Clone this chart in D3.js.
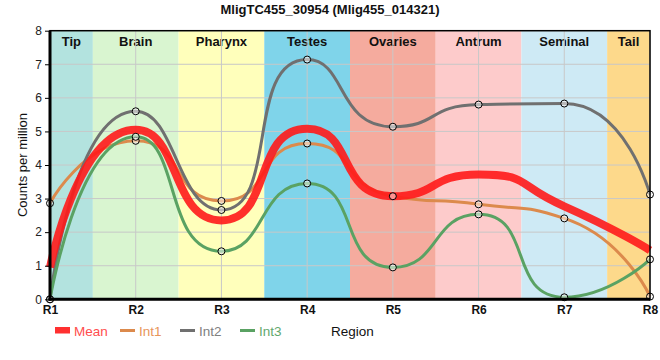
<!DOCTYPE html>
<html><head><meta charset="utf-8">
<script src="https://cdn.jsdelivr.net/npm/d3@7"></script>
<style>body{margin:0;background:#fff;} text{font-family:"Liberation Sans",Arial,sans-serif;}</style>
</head><body>
<svg id="c" width="660" height="360"></svg>
<script>
const title = "MligTC455_30954 (Mlig455_014321)";
const categories = ["R1","R2","R3","R4","R5","R6","R7","R8"];
const regions = ["Tip","Brain","Pharynx","Testes","Ovaries","Antrum","Seminal","Tail"];
const regionColors = ["#b3e3df","#d9f5d0","#ffffbb","#7fd4ea","#f5ab9e","#fdcbcb","#ceeaf5","#fdd98b"];
const meanVals = [0.95, 5.05, 2.35, 5.08, 3.07, 3.72, 2.77, 1.46];
const int1 = [2.86, 4.72, 2.93, 4.64, 3.07, 2.83, 2.41, 0.08];
const int2 = [0.0, 5.60, 2.66, 7.14, 5.14, 5.80, 5.83, 3.12];
const int3 = [0.0, 4.84, 1.43, 3.45, 0.95, 2.53, 0.06, 1.19];
const yTicks = [0,1,2,3,4,5,6,7,8];

// custom smooth curve (bezier with clamped control points)
function SmoothCurve(context, smooth) { this._context = context; this._smooth = smooth; }
SmoothCurve.prototype = {
  areaStart() {}, areaEnd() {},
  lineStart() { this._pts = []; },
  point(x, y) { this._pts.push([+x, +y]); },
  lineEnd() {
    const p = this._pts, n = p.length, s = this._smooth, c = this._context;
    if (!n) return;
    c.moveTo(p[0][0], p[0][1]);
    let cpx0 = p[0][0], cpy0 = p[0][1];
    for (let i = 1; i < n; i++) {
      const [x, y] = p[i], [px, py] = p[i - 1];
      let cpx1, cpy1, ncx = x, ncy = y;
      if (i === n - 1) { cpx1 = x; cpy1 = y; }
      else {
        const [nx, ny] = p[i + 1];
        let vx = nx - px, vy = ny - py;
        const lp = Math.hypot(x - px, y - py), ln = Math.hypot(nx - x, ny - y);
        const r = ln / (ln + lp);
        ncx = x + vx * s * r; ncy = y + vy * s * r;
        ncx = Math.min(ncx, Math.max(nx, x)); ncy = Math.min(ncy, Math.max(ny, y));
        ncx = Math.max(ncx, Math.min(nx, x)); ncy = Math.max(ncy, Math.min(ny, y));
        vx = ncx - x; vy = ncy - y;
        cpx1 = x - vx * lp / ln; cpy1 = y - vy * lp / ln;
        cpx1 = Math.min(cpx1, Math.max(px, x)); cpy1 = Math.min(cpy1, Math.max(py, y));
        cpx1 = Math.max(cpx1, Math.min(px, x)); cpy1 = Math.max(cpy1, Math.min(py, y));
        vx = x - cpx1; vy = y - cpy1;
        ncx = x + vx * ln / lp; ncy = y + vy * ln / lp;
      }
      c.bezierCurveTo(cpx0, cpy0, cpx1, cpy1, x, y);
      cpx0 = ncx; cpy0 = ncy;
    }
  }
};
const curveSmooth = ctx => new SmoothCurve(ctx, 0.6);

const svg = d3.select("#c");
const L = 50, R = 650, T = 30.7, B = 299.3;
const x = d3.scalePoint().domain(categories).range([L, R]);
const y = d3.scaleLinear().domain([0, 8]).range([B, T]);
const step = x.step();

// bands
const bandG = svg.append("g");
regions.forEach((r, i) => {
  const cx = x(categories[i]);
  const x0 = Math.max(L, cx - step / 2), x1 = Math.min(R, cx + step / 2);
  bandG.append("rect").attr("x", x0).attr("y", T).attr("width", x1 - x0).attr("height", B - T).attr("fill", regionColors[i]);
  bandG.append("text").attr("x", (x0 + x1) / 2).attr("y", T + 15).attr("text-anchor", "middle")
    .attr("font-size", 13).attr("font-weight", "bold").attr("fill", "#111").text(r);
});
// grid
const grid = svg.append("g").attr("stroke", "#c8c8c8").attr("stroke-width", 1);
yTicks.forEach(t => grid.append("line").attr("x1", L).attr("x2", R).attr("y1", y(t)).attr("y2", y(t)));
categories.forEach(c => grid.append("line").attr("x1", x(c)).attr("x2", x(c)).attr("y1", T).attr("y2", B));

// lines
const line = d3.line().x((d, i) => x(categories[i])).y(d => y(d)).curve(curveSmooth);
const series = [
  {name:"Mean", vals: meanVals, color:"#ff1a1a", width: 8, op: 0.9, legendColor:"#ff4d4d"},
  {name:"Int1", vals: int1, color:"#dc8a4c", width: 3, op: 1, legendColor:"#e8955a"},
  {name:"Int2", vals: int2, color:"#707070", width: 3, op: 1, legendColor:"#808080"},
  {name:"Int3", vals: int3, color:"#5aa263", width: 3, op: 1, legendColor:"#62a86e"}
];
const lg = svg.append("g");
[series[1], series[2], series[3], series[0]].forEach(s => {
  lg.append("path").attr("d", line(s.vals)).attr("fill", "none").attr("stroke", s.color)
    .attr("stroke-width", s.width).attr("stroke-opacity", s.op);
});
// points
[series[1], series[2], series[3]].forEach(s => {
  svg.append("g").selectAll("circle").data(s.vals).join("circle")
    .attr("cx", (d, i) => x(categories[i])).attr("cy", d => y(d)).attr("r", 3.5)
    .attr("fill", "#fff").attr("fill-opacity", 0.5).attr("stroke", "#000").attr("stroke-width", 1);
});
// frame
svg.append("rect").attr("x", L).attr("y", T).attr("width", R - L).attr("height", B - T)
  .attr("fill", "none").attr("stroke", "#000").attr("stroke-width", 1.5);
svg.append("line").attr("x1", L).attr("x2", L).attr("y1", T).attr("y2", B + 1.5).attr("stroke", "#000").attr("stroke-width", 3);
svg.append("line").attr("x1", L - 1.5).attr("x2", R).attr("y1", B).attr("y2", B).attr("stroke", "#000").attr("stroke-width", 3);

// axes
const ya = svg.append("g").attr("transform", `translate(${L},0)`)
  .call(d3.axisLeft(y).tickValues(yTicks).tickSize(5).tickFormat(d3.format("d")));
ya.select(".domain").remove();
ya.selectAll("text").attr("font-size", 12).attr("fill", "#222").attr("font-family", "Liberation Sans, Arial, sans-serif");
const xa = svg.append("g").attr("transform", `translate(0,${B})`)
  .call(d3.axisBottom(x).tickSize(0).tickPadding(6));
xa.select(".domain").remove();
xa.selectAll("text").attr("font-size", 12).attr("font-weight", "bold").attr("fill", "#111").attr("font-family", "Liberation Sans, Arial, sans-serif");

svg.append("text").attr("transform", `translate(27,${(T + B) / 2}) rotate(-90)`).attr("text-anchor", "middle")
  .attr("font-size", 13).attr("fill", "#111").text("Counts per million");
svg.append("text").attr("x", 330).attr("y", 14).attr("text-anchor", "middle").attr("font-size", 13)
  .attr("font-weight", "bold").attr("fill", "#111").text(title);

// legend
const legY = 330.5;
const legX = [55, 120, 180, 240];
series.forEach((s, i) => {
  if (i === 0) lg.append("rect").attr("x", legX[i]).attr("y", legY - 3.5).attr("width", 15).attr("height", 6.5).attr("fill", "#ff3030");
  else lg.append("line").attr("x1", legX[i]).attr("x2", legX[i] + 15).attr("y1", legY).attr("y2", legY).attr("stroke", s.color).attr("stroke-width", 3);
  lg.append("text").attr("x", legX[i] + 19).attr("y", legY + 5).attr("font-size", 13.5).attr("fill", s.legendColor).text(s.name);
});
lg.append("text").attr("x", 331).attr("y", legY + 5.5).attr("font-size", 13.5).attr("fill", "#111").text("Region");
</script>
</body></html>
